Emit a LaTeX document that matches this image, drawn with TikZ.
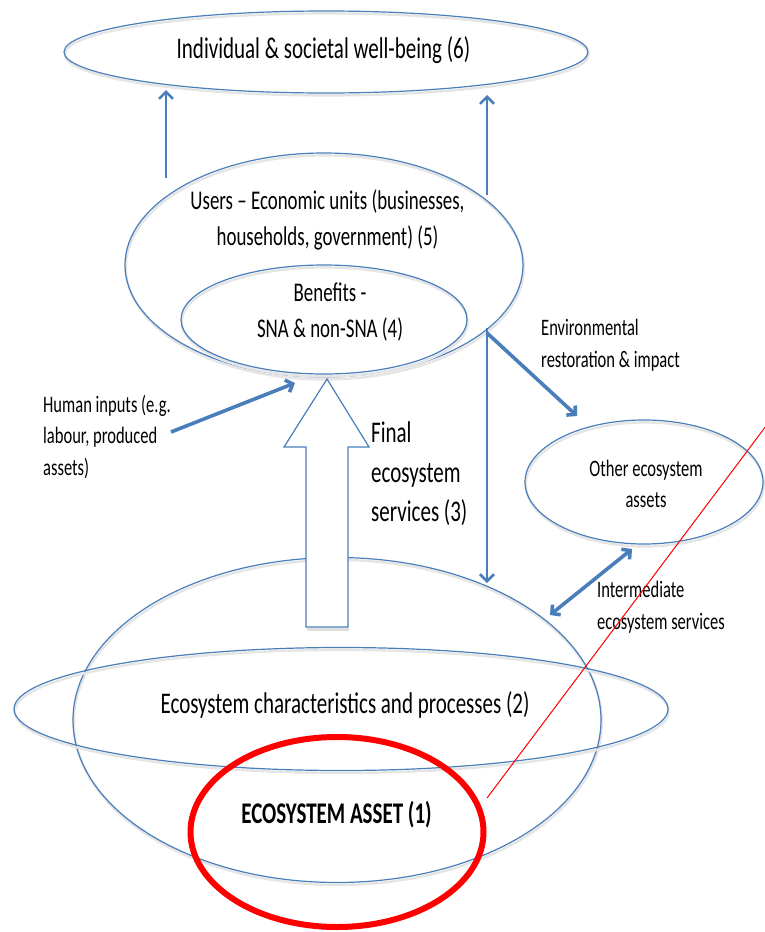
\documentclass[tikz,border=0pt]{standalone}
\usepackage{fontspec}
\setmainfont{Carlito}[FakeStretch=0.7]
\usetikzlibrary{arrows.meta,shapes.geometric}
\definecolor{ob}{RGB}{74,126,187}
\begin{document}
\begin{tikzpicture}[x=1pt,y=-1pt,
  ell/.style={ellipse, draw=ob, line width=1.2pt, inner sep=0pt,
    preaction={draw=black!10, line width=2.4pt, transform canvas={xshift=0.8pt,yshift=-2.4pt}}},
  bigtxt/.style={font=\fontsize{30}{39.5}\selectfont, inner sep=0pt},
  midtxt/.style={font=\fontsize{27}{36}\selectfont, inner sep=0pt, align=center},
  smalltxt/.style={font=\fontsize{23.6}{31.5}\selectfont, inner sep=0pt},
  thinarrow/.style={draw=ob, line width=2.5pt, -{Straight Barb[length=7pt,width=14pt]}},
  thickarrow/.style={draw=ob, line width=3.6pt, -{Straight Barb[length=6pt,width=13pt]}},
  dblarrow/.style={draw=ob, line width=3.6pt, {Straight Barb[length=6pt,width=13pt]}-{Straight Barb[length=6pt,width=13pt]}}
]
\useasboundingbox (0,0) rectangle (765,932);

% ellipses
\node[ell, minimum width=524pt, minimum height=82pt] (wb) at (326,52) {};
\node[ell, minimum width=398pt, minimum height=224pt] (users) at (324,265) {};
\node[ell, minimum width=286pt, minimum height=109pt] (ben) at (324,319.5) {};
\node[ell, minimum width=238pt, minimum height=124pt] (oth) at (644,482) {};
\node[ell, minimum width=528pt, minimum height=325pt] (eco) at (337,720) {};
\node[ell, minimum width=654pt, minimum height=123pt] (chars) at (341,709) {};

% hollow arrow (final ecosystem services)
\draw[draw=black!12, line width=2.4pt, transform canvas={xshift=0.8pt,yshift=-2.4pt}]
  (348,627) -- (306,627);
\draw[draw=ob, fill=white, line width=1.2pt]
  (327,379) -- (369,447) -- (348,447) -- (348,627) -- (306,627) -- (306,447) -- (284,447) -- cycle;

% red ellipse
\node[ellipse, draw=red, line width=6pt, inner sep=0pt, minimum width=293pt, minimum height=190pt] (asset) at (337,832) {};

% texts
\node[bigtxt, anchor=base] (wbt) at (323.5,58) {Individual \& societal well-being (6)};
\node[midtxt] (userst) at (327.5,220) {Users -- Economic units (businesses,\\households, government) (5)};
\node[midtxt] (bent) at (330,312) {Benefits -\\SNA \& non-SNA (4)};
\node[smalltxt, align=left, anchor=west] (humt) at (43,437) {Human inputs (e.g.\\labour, produced\\assets)};
\node[bigtxt, align=left, anchor=west] (fint) at (371,474) {Final\\ecosystem\\services (3)};
\node[smalltxt, align=left, anchor=west] (envt) at (541,345) {Environmental\\restoration \& impact};
\node[smalltxt, align=center] (otht) at (646,484) {Other ecosystem\\assets};
\node[smalltxt, align=left, anchor=west] (intt) at (597,607) {Intermediate\\ecosystem services};
\node[bigtxt, anchor=base] (chart) at (345,713) {Ecosystem characteristics and processes (2)};
\node[bigtxt, anchor=base, font=\fontsize{30}{36}\selectfont\bfseries] (assett) at (336.5,823) {ECOSYSTEM ASSET (1)};

% connector end points
\coordinate (a1s) at (166,178); \coordinate (a1e) at (166,90);
\coordinate (a2s) at (487,195); \coordinate (a2e) at (487,95);
\coordinate (ds) at (487,328);  \coordinate (de) at (487,583);
\coordinate (es) at (487,333);  \coordinate (ee) at (577,416);
\coordinate (is) at (632,549);  \coordinate (ie) at (550,615);
\coordinate (hs) at (171,432);  \coordinate (he) at (295,383);
\coordinate (rs) at (487,798);  \coordinate (re) at (766,426);

% connectors
\draw[thinarrow] (a1s) -- (a1e);
\draw[thinarrow] (a2s) -- (a2e);
\draw[thinarrow] (ds) -- (de);
\draw[thickarrow] (es) -- (ee);
\draw[dblarrow] (is) -- (ie);
\draw[thickarrow] (hs) -- (he);

% red line
\draw[red, line width=1pt] (rs) -- (re);
\end{tikzpicture}
\end{document}
